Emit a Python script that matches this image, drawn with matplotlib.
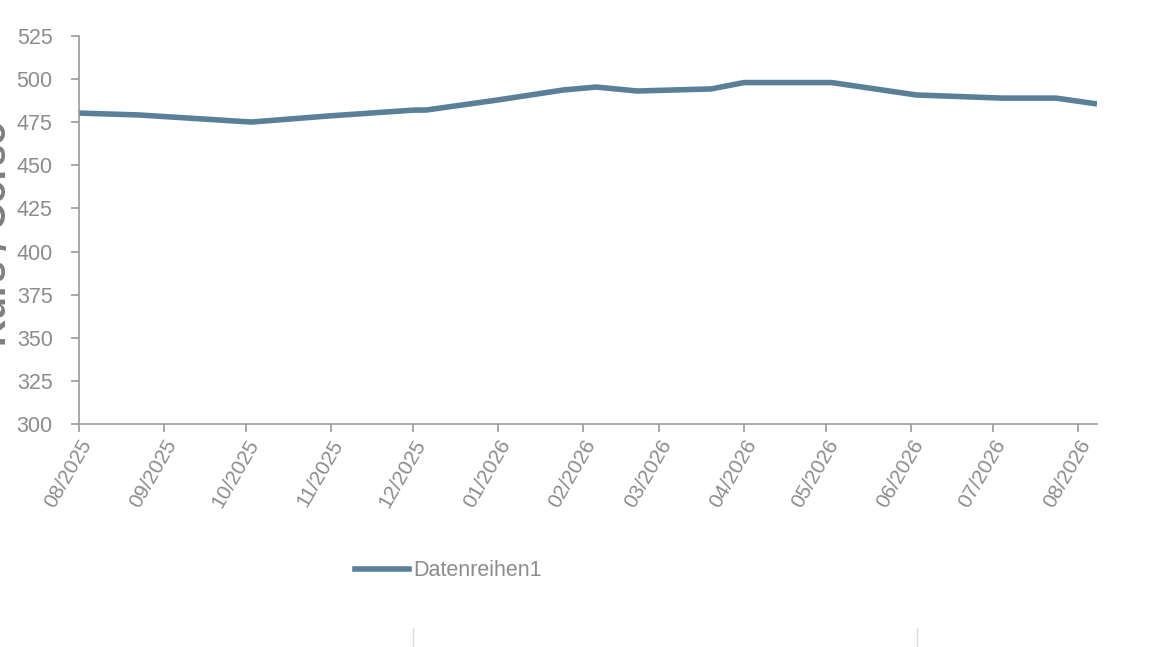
import numpy as np
import pandas as pd
import matplotlib
matplotlib.use("Agg")
import matplotlib.pyplot as plt
import matplotlib.dates as mdates
from matplotlib.lines import Line2D

plt.rcParams["font.family"] = ["Liberation Sans", "DejaVu Sans"]

# data
dates = ["2025-08-01", "2025-08-23", "2025-10-03", "2025-10-31", "2025-12-01",
         "2025-12-06", "2026-01-01", "2026-01-25", "2026-02-06", "2026-02-21",
         "2026-03-20", "2026-04-01", "2026-05-03", "2026-06-03", "2026-07-04",
         "2026-07-24", "2026-08-08"]
kurs = [480.3, 479.2, 475.1, 478.6, 482.0, 482.1, 487.9, 493.7, 495.4, 493.1,
        494.3, 498.0, 498.0, 490.8, 489.0, 489.0, 485.6]
tick_dates = pd.date_range("2025-08-01", "2026-08-01", freq="MS")
series_name = "Datenreihen1"

GRAY = "#8c8c8c"
LINE = "#5a7f98"

fig = plt.figure(figsize=(11.5, 6.47), dpi=100)
ax = fig.add_axes([79 / 1150, 1 - 424 / 647, (1097 - 79) / 1150, (424 - 36) / 647])

x = pd.to_datetime(dates)
ax.plot(x, kurs, color=LINE, lw=4.0, solid_capstyle="butt", label=series_name)

ax.set_ylim(300, 525)
ax.set_yticks(np.arange(300, 526, 25))
ax.set_xlim(pd.Timestamp("2025-08-01"), pd.Timestamp("2026-08-08"))
ax.set_xticks(tick_dates)
ax.xaxis.set_major_formatter(mdates.DateFormatter("%m/%Y"))

for s in ["top", "right"]:
    ax.spines[s].set_visible(False)
for s in ["left", "bottom"]:
    ax.spines[s].set_color("#9a9a9a")
    ax.spines[s].set_linewidth(1.2)
ax.tick_params(axis="both", colors="#9a9a9a", labelcolor=GRAY,
               length=6, width=1.2, direction="out")
ax.tick_params(axis="y", pad=13, labelsize=15.5)
ax.tick_params(axis="x", pad=3, labelsize=15)
for lab in ax.get_xticklabels():
    lab.set_rotation(60)
    lab.set_ha("right")
    lab.set_va("top")
    lab.set_rotation_mode("anchor")

# axis title sits partly outside the left edge, as in the reference
fig.text(14 / 1150, 1 - 233 / 647, "Kurs / Corso", rotation=90, ha="right",
         va="center", fontsize=27, fontweight="bold", color="#7f7f7f")

handle = Line2D([], [], color=LINE, lw=4.0)
fig.legend([handle], [series_name], loc="center left",
           bbox_to_anchor=(355 / 1150, 1 - 571 / 647), frameon=False,
           fontsize=15.5, labelcolor=GRAY, handlelength=2.5, handletextpad=0.2,
           borderaxespad=0, borderpad=0)

for xp in (413, 917):
    fig.add_artist(Line2D([xp / 1150, xp / 1150], [0, 19 / 647],
                          color="#dddddd", lw=1))

fig.savefig("out.png", dpi=100)
